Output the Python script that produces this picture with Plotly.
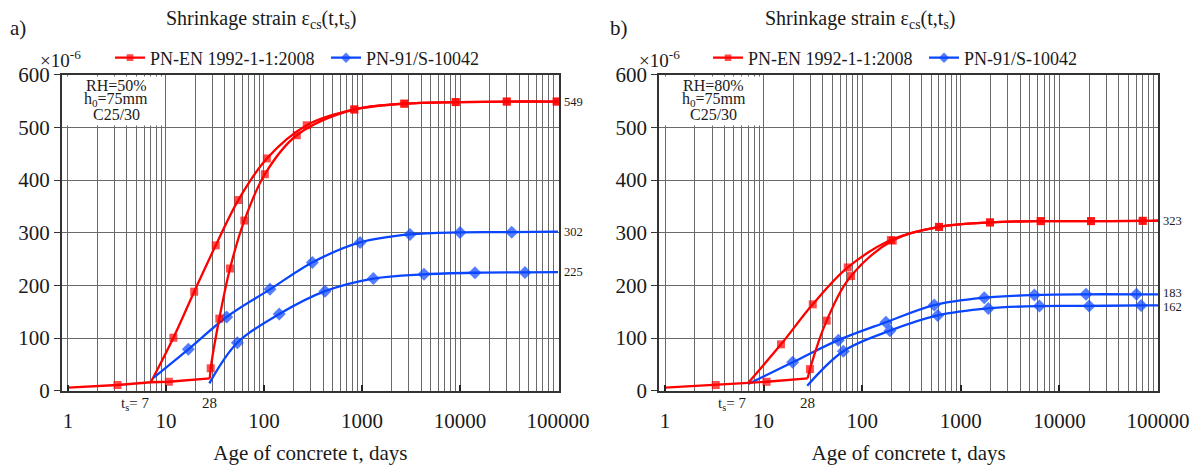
import math
import plotly.graph_objects as go

# ---------------- data ----------------
X_TICKS = [1, 10, 100, 1000, 10000, 100000]
Y_TICKS = [0, 100, 200, 300, 400, 500, 600]
TS = [7, 28]

# Panel a)  RH=50%, h0=75mm, C25/30
a_auto_t = [1, 3.2, 7]
a_auto_v = [5.7, 10.8, 16]
a_pre28_t = [7, 10.7, 28]
a_pre28_v = [16, 17, 23.5]
a_en7_t = [7, 11.9, 19.4, 32.2, 54.7, 107, 273, 834, 2700, 9040, 30000, 97000, 100000]
a_en7_v = [16, 100.6, 188, 276, 362, 441, 504, 534, 545, 548, 549, 549, 549]
a_en28_t = [28, 28.6, 35, 45, 63, 102, 216, 834, 2700, 9040, 30000, 97000, 100000]
a_en28_v = [23.5, 42.5, 137, 232, 323, 411, 485, 534, 545, 548, 549, 549, 549]
a_pn7_t = [7.5, 16.9, 41.6, 115, 311, 955, 3090, 10000, 33700, 100000]
a_pn7_v = [25, 78.5, 140, 192.4, 243.6, 281.6, 296.8, 300.6, 301, 302]
a_pn28_t = [27.7, 53.4, 143, 419, 1304, 4290, 14200, 46000, 100000]
a_pn28_v = [14, 91, 145.5, 189, 213, 221, 224, 224.6, 225]

# Panel b)  RH=80%, h0=75mm, C25/30
b_auto_t = [1, 3.27, 7]
b_auto_v = [5.7, 10.8, 15]
b_pre28_t = [7, 10.7, 28]
b_pre28_v = [15, 17, 23.5]
b_en7_t = [7, 15, 31.5, 71.3, 195, 601, 1977, 6460, 20900, 70000, 100000]
b_en7_v = [15, 88, 164, 234, 286, 311, 319.5, 322, 322, 322.5, 323]
b_en28_t = [28, 29.5, 43.6, 77, 204, 601, 1977, 6460, 20900, 70000, 100000]
b_en28_v = [23.5, 41, 133, 217.6, 285, 311, 319.5, 322, 322, 322.5, 323]
b_pn7_t = [7, 19.7, 57.3, 174, 538, 1730, 5570, 18600, 60500, 100000]
b_pn7_v = [12.7, 54, 96, 130, 162.6, 176.5, 181.6, 183, 183, 183]
b_pn28_t = [27.7, 64.3, 191, 583, 1900, 6270, 20000, 67300, 100000]
b_pn28_v = [9.5, 75, 114, 143, 156.3, 160.7, 161, 162, 162]

a_info = ["RH=50%", "h<sub>0</sub>=75mm", "C25/30"]
b_info = ["RH=80%", "h<sub>0</sub>=75mm", "C25/30"]

EN_NAME = "PN-EN 1992-1-1:2008"
PN_NAME = "PN-91/S-10042"

# ---------------- styling ----------------
FONT = "Liberation Serif, Times New Roman, serif"
TXT = "#1a1a1a"
RED = "#ff0000"
BLUE = "#0a46ff"
GRID = "#6a6a6a"
W, H = 1199, 470

fig = go.Figure()


def sizes(n, s):
    # markers on interior points only (curve ends carry no marker)
    return [0] + [s] * (n - 2) + [0]


def add(t, v, color, symbol, msize, shape, xa, ya, lg, name, show):
    fig.add_trace(go.Scatter(
        x=t, y=v, mode="lines+markers", name=name, legendgroup=name + xa,
        showlegend=show, legend=lg, xaxis=xa, yaxis=ya,
        line=dict(color=color, width=2.3, shape=shape, smoothing=1.0),
        marker=dict(symbol=symbol, color=color, size=sizes(len(t), msize),
                    line=dict(width=0)),
        cliponaxis=False,
    ))


panels = [
    ("x", "y", "legend", (a_auto_t, a_auto_v), (a_pre28_t, a_pre28_v),
     (a_en7_t, a_en7_v), (a_en28_t, a_en28_v), (a_pn7_t, a_pn7_v), (a_pn28_t, a_pn28_v)),
    ("x2", "y2", "legend2", (b_auto_t, b_auto_v), (b_pre28_t, b_pre28_v),
     (b_en7_t, b_en7_v), (b_en28_t, b_en28_v), (b_pn7_t, b_pn7_v), (b_pn28_t, b_pn28_v)),
]

for xa, ya, lg, auto, pre, en7, en28, pn7, pn28 in panels:
    add(*en7, RED, "square", 8, "spline", xa, ya, lg, EN_NAME, True)
    add(*pn7, BLUE, "diamond", 10, "spline", xa, ya, lg, PN_NAME, True)
    add(*auto, RED, "square", 8, "linear", xa, ya, lg, EN_NAME, False)
    add(*pre, RED, "square", 8, "linear", xa, ya, lg, EN_NAME, False)
    add(*en28, RED, "square", 8, "spline", xa, ya, lg, EN_NAME, False)
    add(*pn28, BLUE, "diamond", 10, "spline", xa, ya, lg, PN_NAME, False)

X_MINOR = [k * 10 ** d for d in range(5) for k in range(2, 10)]


def xaxis(domain, rng, anchor):
    return dict(
        type="log", domain=domain, range=rng, anchor=anchor,
        tickvals=X_TICKS, ticktext=[str(v) for v in X_TICKS],
        ticks="inside", ticklen=6, tickwidth=2, tickcolor="#222",
        ticklabelstandoff=10,
        showgrid=True, gridcolor=GRID, gridwidth=1,
        minor=dict(tickvals=X_MINOR, showgrid=True, gridcolor=GRID, gridwidth=1, ticks=""),
        showline=True, linecolor="#333", linewidth=1.5, mirror=True,
        tickfont=dict(family=FONT, size=21, color=TXT),
        title=dict(text="Age of concrete t, days", font=dict(family=FONT, size=21, color=TXT),
                   standoff=14),
        zeroline=False, automargin=False,
    )


def yaxis(domain, anchor):
    return dict(
        domain=domain, range=[0, 600], anchor=anchor,
        tickvals=Y_TICKS, ticks="outside", ticklen=6, tickwidth=1, tickcolor="#333",
        showgrid=True, gridcolor=GRID, gridwidth=1,
        showline=True, linecolor="#333", linewidth=1.5, mirror=True,
        tickfont=dict(family=FONT, size=21, color=TXT),
        zeroline=False, automargin=False,
    )


YDOM = [(H - 390.7) / H, (H - 74.7) / H]
LEG = dict(orientation="h", y=(H - 58) / H, xanchor="left", yanchor="middle",
           font=dict(family=FONT, size=18, color=TXT), bgcolor="rgba(0,0,0,0)",
           itemwidth=30, traceorder="normal", entrywidth=171, entrywidthmode="pixels")
fig.update_layout(
    width=W, height=H, margin=dict(l=0, r=0, t=0, b=0),
    paper_bgcolor="white", plot_bgcolor="white",
    font=dict(family=FONT, color=TXT),
    xaxis=xaxis([61.7 / W, 559 / W], [-0.064, 5.01], "y"),
    yaxis=yaxis(YDOM, "x"),
    xaxis2=xaxis([659 / W, 1158.3 / W], [-0.061, 5.003], "y2"),
    yaxis2=yaxis(YDOM, "x2"),
    legend=dict(LEG, x=110 / W),
    legend2=dict(LEG, x=708 / W),
    showlegend=True,
)

ann = []
shapes = []
for (xa, ya, info, tag, tag_x, title_x, exp_x, finals) in [
    ("x", "y", a_info, "a)", 8, 261, 38, [a_en7_v[-1], a_pn7_v[-1], a_pn28_v[-1]]),
    ("x2", "y2", b_info, "b)", 608, 860, 637, [b_en7_v[-1], b_pn7_v[-1], b_pn28_v[-1]]),
]:
    ann.append(dict(text=tag, xref="paper", yref="paper", x=tag_x / W, y=(H - 28) / H,
                    xanchor="left", yanchor="middle", showarrow=False,
                    font=dict(family=FONT, size=21, color=TXT)))
    ann.append(dict(text="Shrinkage strain ε<sub>cs</sub>(t,t<sub>s</sub>)", xref="paper", yref="paper",
                    x=title_x / W, y=(H - 20) / H, xanchor="center", yanchor="middle",
                    showarrow=False, font=dict(family=FONT, size=20, color=TXT)))
    ann.append(dict(text="×10<sup>-6</sup>", xref="paper", yref="paper", x=exp_x / W, y=(H - 59) / H,
                    xanchor="left", yanchor="middle", showarrow=False,
                    font=dict(family=FONT, size=19, color=TXT)))
    # white info box covering the grid
    shapes.append(dict(type="rect", xref=xa + " domain", yref=ya + " domain",
                       x0=0.004, x1=0.205, y0=0.839, y1=0.994,
                       fillcolor="white", line=dict(width=0), layer="above"))
    for i, line in enumerate(info):
        ann.append(dict(text=line, xref=xa + " domain", yref=ya + " domain",
                        x=0.11, y=0.9674 - i * 0.0474, xanchor="center", yanchor="middle",
                        showarrow=False, font=dict(family=FONT, size=16, color=TXT)))
    # final values, the two close ones nudged apart as in the reference
    order = sorted(finals, reverse=True)
    for v in finals:
        nudge = 0
        if len(order) > 1:
            idx = order.index(v)
            gaps = [abs(v - o) for o in order if o != v]
            if min(gaps) < 30:
                nudge = 1.5 if idx < len(order) - 1 and abs(v - order[idx + 1]) < 30 else -1.5
        ann.append(dict(text=f"{v:g}", xref=xa + " domain", yref=ya, x=1, y=v,
                        xanchor="left", yanchor="middle", xshift=3, yshift=nudge, showarrow=False,
                        font=dict(family=FONT, size=12.5, color=TXT)))
    ann.append(dict(text=f"t<sub>s</sub>= {TS[0]}", xref=xa, yref=ya, x=math.log10(TS[0]), y=0,
                    xanchor="right", yanchor="top", yshift=-2, showarrow=False,
                    font=dict(family=FONT, size=15, color=TXT)))
    ann.append(dict(text=f"{TS[1]}", xref=xa, yref=ya, x=math.log10(TS[1]), y=0,
                    xanchor="center", yanchor="top", yshift=-2, showarrow=False,
                    font=dict(family=FONT, size=15, color=TXT)))

fig.update_layout(annotations=ann, shapes=shapes)
fig.write_html("out.html", config={"displayModeBar": False},
               post_script="document.body.style.margin='0';")
